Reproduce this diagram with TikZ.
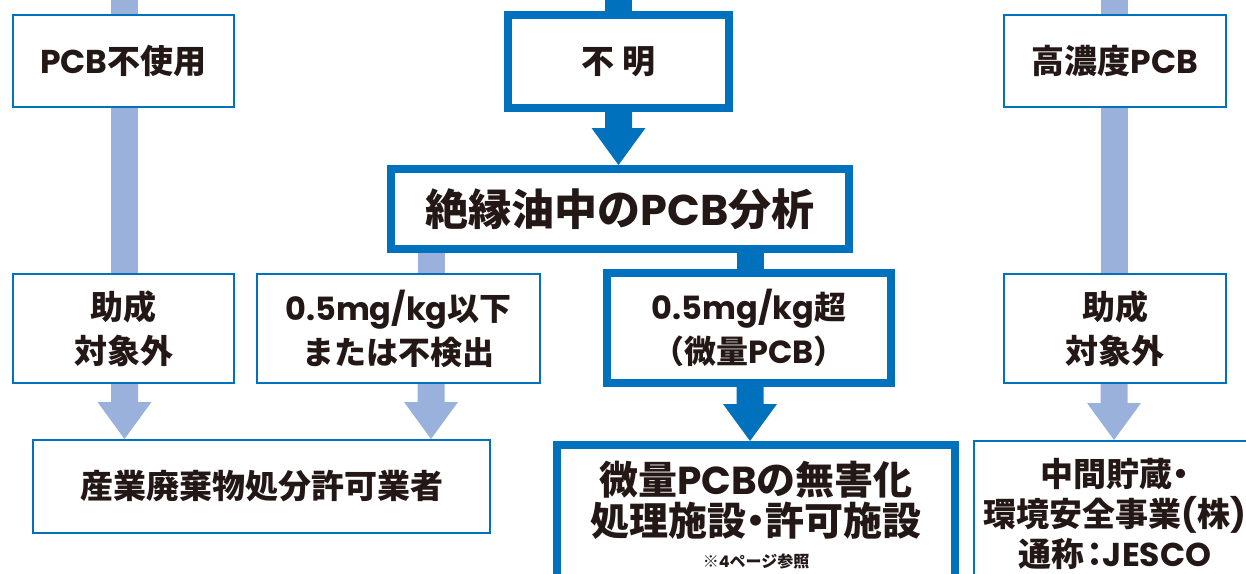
\documentclass[tikz,border=0pt]{standalone}
\usepackage{fontspec}
\setmainfont{Noto Sans CJK JP}
\newfontfamily\latfont{Poppins}
\newcommand\la[1]{{\latfont #1}}
\usetikzlibrary{calc}
\definecolor{bluec}{HTML}{0071BC}
\definecolor{lightc}{HTML}{9AB2DB}
\definecolor{txtc}{HTML}{231815}
\tikzset{
  box/.style={draw=bluec, line width=2.2pt, fill=white, inner sep=0pt,
    align=center, text=txtc, font=\fontsize{33}{44}\selectfont\bfseries},
  thickbox/.style={box, line width=8pt},
}
% shaft: colour, x, from, to
\newcommand\myshaft[4]{\fill[#1] let \p1=(#3), \p2=(#4) in
  ({#2pt-13.5pt},\y1) rectangle ({#2pt+13.5pt},\y2);}
% block arrow: colour, x, from, to
\newcommand\myarrow[4]{\fill[#1] let \p1=(#3), \p2=(#4) in
  ({#2pt-13.5pt},\y1) -- ({#2pt-13.5pt},{\y2+37pt}) -- ({#2pt-27pt},{\y2+37pt})
  -- ({#2pt},\y2) -- ({#2pt+27pt},{\y2+37pt}) -- ({#2pt+13.5pt},{\y2+37pt})
  -- ({#2pt+13.5pt},\y1) -- cycle;}
\newcommand\hdot{\kern-.25em・\kern-.25em}
\begin{document}
\begin{tikzpicture}[x=1pt,y=-1pt]
\useasboundingbox (0,0) rectangle (1246,573);
\fill[white] (0,0) rectangle (1246,573);

\coordinate (topL) at (124.5,0);
\coordinate (topC) at (618.5,0);
\coordinate (topR) at (1114,0);

\node[box, minimum width=220.8pt, minimum height=91.8pt] (nouse) at (123.5,61) {\la{PCB}不使用};
\node[thickbox, minimum width=221pt, minimum height=93pt] (fumei) at (618.5,61.5) {不\hspace{8pt}明};
\node[box, minimum width=221.8pt, minimum height=91.8pt] (koko) at (1115,61) {高濃度\la{PCB}};

\node[thickbox, minimum width=458pt, minimum height=80pt,
  font=\fontsize{43}{50}\selectfont\bfseries] (bunseki) at (620,209) {絶縁油中の\la{PCB}分析};

\node[box, minimum width=220.8pt, minimum height=108.8pt] (josei1) at (123.5,328.5) {助成\\対象外};
\node[box, minimum width=282.8pt, minimum height=108.8pt,
  font=\fontsize{32}{44}\selectfont\bfseries] (ika) at (398.5,328.5) {\la{0.5mg/kg}以下\\または不検出};
\node[thickbox, minimum width=284pt, minimum height=110pt,
  font=\fontsize{32}{43.5}\selectfont\bfseries] (cho) at (749,328) {\la{0.5mg/kg}超\\（微量\la{PCB}）};
\node[box, minimum width=221.8pt, minimum height=108.8pt] (josei2) at (1115,328.5) {助成\\対象外};

\node[box, minimum width=456.8pt, minimum height=92.8pt] (sangyo) at (261.5,486.5) {産業廃棄物処分許可業者};
\node[thickbox, minimum width=398pt, minimum height=140pt,
  font=\fontsize{39}{41}\selectfont\bfseries] (bisyo) at (756,515)
  {微量\la{PCB}の無害化\\処理施設\hdot 許可施設\\[-9pt]{\fontsize{16}{16}\selectfont ※\la{4}ページ参照}};
\node[box, minimum width=281.8pt, minimum height=145.8pt,
  font=\fontsize{33}{40}\selectfont\bfseries] (jesco) at (1115,514)
  {中間貯蔵\kern-.25em・\kern-.25em\\環境安全事業\la{(}株\la{)}\\通称\kern-.2em：\kern-.25em\la{JESCO}};

% connectors
\myshaft{bluec}{618.5}{topC}{fumei.north}
\myarrow{bluec}{618.5}{fumei.south}{bunseki.north}
\myshaft{bluec}{750}{bunseki.south}{cho.north}
\myarrow{bluec}{750}{cho.south}{bisyo.north}

\myshaft{lightc}{431}{bunseki.south}{ika.north}
\myarrow{lightc}{431}{ika.south}{sangyo.north}

\myshaft{lightc}{124.5}{topL}{nouse.north}
\myshaft{lightc}{124.5}{nouse.south}{josei1.north}
\myarrow{lightc}{124.5}{josei1.south}{sangyo.north}

\myshaft{lightc}{1114}{topR}{koko.north}
\myshaft{lightc}{1114}{koko.south}{josei2.north}
\myarrow{lightc}{1114}{josei2.south}{jesco.north}
\end{tikzpicture}
\end{document}
